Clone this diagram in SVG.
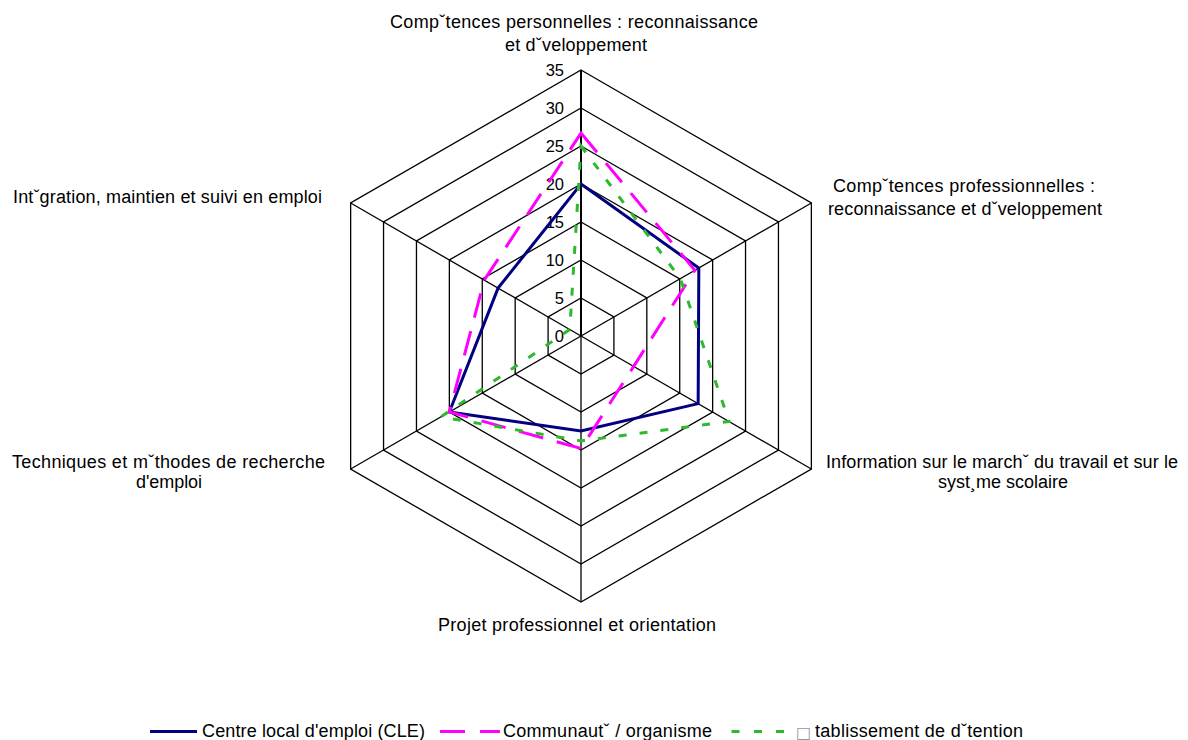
<svg xmlns="http://www.w3.org/2000/svg" width="1188" height="740" viewBox="0 0 1188 740">
<style>
.grid{fill:none;stroke:#000;stroke-width:1.3}
.axis{stroke:#000;stroke-width:2}
.spoke{stroke:#000;stroke-width:1.3}
.lbl{font-family:"Liberation Sans",Arial,sans-serif;font-size:18px;fill:#000}
.num{font-family:"Liberation Sans",Arial,sans-serif;font-size:16.5px;fill:#000;text-anchor:end}
.cle{fill:none;stroke:#000080;stroke-width:3;stroke-linejoin:miter}
.com{fill:none;stroke:#FF00FF;stroke-width:3;stroke-dasharray:25 14}
.eta{fill:none;stroke:#2EB82E;stroke-width:3;stroke-dasharray:8 13}
</style>
<rect width="1188" height="740" fill="#fff"/>
<g id="grid">
<polygon class="grid" points="581,298 613.91,317 613.91,355 581,374 548.09,355 548.09,317"/>
<polygon class="grid" points="581,260 646.82,298 646.82,374 581,412 515.18,374 515.18,298"/>
<polygon class="grid" points="581,222 679.73,279 679.73,393 581,450 482.27,393 482.27,279"/>
<polygon class="grid" points="581,184 712.64,260 712.64,412 581,488 449.36,412 449.36,260"/>
<polygon class="grid" points="581,146 745.54,241 745.54,431 581,526 416.46,431 416.46,241"/>
<polygon class="grid" points="581,108 778.45,222 778.45,450 581,564 383.55,450 383.55,222"/>
<polygon class="grid" points="581,70 811.36,203 811.36,469 581,602 350.64,469 350.64,203"/>
<line class="spoke" x1="581" y1="336" x2="811.36" y2="203"/>
<line class="spoke" x1="581" y1="336" x2="811.36" y2="469"/>
<line class="spoke" x1="581" y1="336" x2="581" y2="602"/>
<line class="spoke" x1="581" y1="336" x2="350.64" y2="469"/>
<line class="spoke" x1="581" y1="336" x2="350.64" y2="203"/>
<line class="axis" x1="581" y1="336" x2="581" y2="70"/>
</g>
<g id="scale">
<text class="num" x="564" y="341.5">0</text>
<text class="num" x="564" y="303.5">5</text>
<text class="num" x="564" y="265.5">10</text>
<text class="num" x="564" y="227.5">15</text>
<text class="num" x="564" y="189.5">20</text>
<text class="num" x="564" y="151.5">25</text>
<text class="num" x="564" y="113.5">30</text>
<text class="num" x="564" y="75.5">35</text>
</g>
<g id="series">
<polygon class="cle" points="581,184 698.82,267.98 698.16,403.64 581,431 449.36,412 498.07,288.12"/>
<polygon class="com" points="581,133.08 694.87,270.26 633.66,366.4 581,448.48 449.36,412 484.24,280.14"/>
<polygon class="eta" points="581,146 680.39,278.62 729.1,421.5 581,440.88 440.8,416.94 569.81,329.54"/>
</g>
<g id="labels">
<text class="lbl" x="390" y="28" textLength="368" lengthAdjust="spacing">Compˇtences personnelles : reconnaissance</text>
<text class="lbl" x="505" y="51" textLength="142" lengthAdjust="spacing">et dˇveloppement</text>
<text class="lbl" x="833" y="192" textLength="262" lengthAdjust="spacing">Compˇtences professionnelles :</text>
<text class="lbl" x="828" y="215" textLength="274" lengthAdjust="spacing">reconnaissance et dˇveloppement</text>
<text class="lbl" x="13" y="203" textLength="309" lengthAdjust="spacing">Intˇgration, maintien et suivi en emploi</text>
<text class="lbl" x="12" y="468" textLength="313" lengthAdjust="spacing">Techniques et mˇthodes de recherche</text>
<text class="lbl" x="136" y="488" textLength="66" lengthAdjust="spacing">d'emploi</text>
<text class="lbl" x="826" y="468" textLength="352" lengthAdjust="spacing">Information sur le marchˇ du travail et sur le</text>
<text class="lbl" x="938" y="488" textLength="130" lengthAdjust="spacing">syst¸me scolaire</text>
<text class="lbl" x="438" y="631" textLength="278" lengthAdjust="spacing">Projet professionnel et orientation</text>
</g>
<g id="legend">
<line x1="150" y1="731.5" x2="197" y2="731.5" stroke="#000080" stroke-width="3"/>
<text class="lbl" x="202" y="737" textLength="223" lengthAdjust="spacing">Centre local d'emploi (CLE)</text>
<line x1="440" y1="731.5" x2="465" y2="731.5" stroke="#FF00FF" stroke-width="3"/>
<line x1="480" y1="731.5" x2="500" y2="731.5" stroke="#FF00FF" stroke-width="3"/>
<text class="lbl" x="503" y="737" textLength="209" lengthAdjust="spacing">Communautˇ / organisme</text>
<line x1="731.5" y1="731.5" x2="739.5" y2="731.5" stroke="#2EB82E" stroke-width="3"/>
<line x1="754" y1="731.5" x2="762" y2="731.5" stroke="#2EB82E" stroke-width="3"/>
<line x1="776" y1="731.5" x2="784" y2="731.5" stroke="#2EB82E" stroke-width="3"/>
<text class="lbl" x="796" y="738"><tspan fill="#999" font-family="'DejaVu Sans',sans-serif" font-size="16px">□</tspan></text>
<text class="lbl" x="815" y="737" textLength="208" lengthAdjust="spacing">tablissement de dˇtention</text>
</g>
</svg>
